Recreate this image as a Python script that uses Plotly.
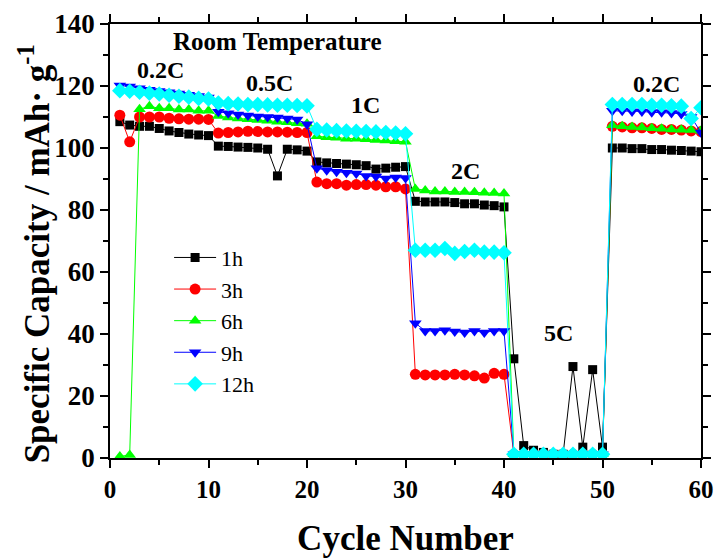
import plotly.graph_objects as go

cycles = list(range(1, 61))

cap_1h = [108.5, 107.4, 107.0, 107.0, 106.3, 105.5, 105.0, 104.5, 104.2, 104.0,
          100.6, 100.5, 100.3, 100.2, 100.0, 99.6, 91.0, 99.6, 99.4, 99.0,
          95.5, 95.2, 95.0, 94.8, 94.6, 94.3, 93.2, 93.5, 93.8, 94.0,
          82.8, 82.6, 82.6, 82.6, 82.4, 82.0, 82.0, 81.6, 81.4, 81.0,
          32.0, 4.0, 2.5, 1.8, 1.2, 1.2, 29.5, 3.5, 28.5, 3.5,
          100.0, 100.0, 99.8, 99.8, 99.5, 99.5, 99.3, 99.2, 99.0, 98.8]

cap_3h = [110.6, 102.0, 110.0, 110.0, 110.0, 109.6, 109.4, 109.3, 109.3, 109.2,
          104.8, 105.0, 105.2, 105.4, 105.3, 105.2, 105.2, 105.1, 105.0, 105.0,
          89.0, 88.5, 88.5, 88.0, 88.2, 88.2, 88.0, 87.5, 87.5, 86.8,
          27.0, 26.8, 26.8, 26.8, 27.0, 26.8, 26.5, 25.8, 27.3, 27.0,
          1.2, 1.2, 1.2, 1.2, 1.2, 1.2, 1.2, 1.2, 1.2, 1.2,
          107.0, 106.8, 106.5, 106.5, 106.3, 106.0, 106.0, 105.8, 105.5, 105.3]

cap_6h = [0.5, 1.0, 112.5, 113.5, 112.8, 112.8, 112.4, 112.4, 112.0, 112.0,
          110.3, 109.8, 109.5, 109.3, 109.0, 108.8, 108.5, 108.3, 108.0, 107.8,
          103.8, 103.5, 103.3, 103.0, 103.0, 102.8, 102.6, 102.4, 102.2, 102.0,
          86.8, 86.3, 86.0, 86.0, 85.8, 85.8, 85.7, 85.6, 85.5, 85.3,
          1.2, 1.2, 1.2, 1.2, 1.2, 1.2, 1.2, 1.2, 1.2, 1.2,
          107.3, 107.0, 106.8, 106.6, 106.4, 106.2, 106.0, 105.9, 105.8, 105.6]

cap_9h = [120.2, 119.8, 119.3, 118.8, 118.4, 118.0, 117.6, 117.2, 116.8, 116.3,
          111.7, 111.2, 110.8, 110.5, 110.2, 110.0, 109.8, 109.5, 109.2, 107.7,
          93.5, 92.8, 92.3, 92.0, 91.8, 91.0, 90.8, 90.2, 90.5, 90.3,
          43.5, 41.0, 41.0, 41.2, 40.8, 40.5, 41.0, 40.5, 41.0, 41.0,
          1.2, 1.2, 1.2, 1.2, 1.2, 1.2, 1.2, 1.2, 1.2, 1.2,
          112.0, 112.0, 111.8, 111.8, 111.5, 111.5, 111.3, 111.0, 110.0, 105.0]

cap_12h = [118.5, 118.3, 118.0, 117.7, 117.4, 117.0, 116.7, 116.4, 116.0, 115.8,
           114.5, 114.3, 114.2, 114.0, 114.0, 113.9, 113.8, 113.8, 113.7, 113.6,
           106.0, 105.8, 105.6, 105.5, 105.4, 105.3, 105.2, 105.0, 104.8, 104.6,
           67.0, 67.0, 67.0, 67.6, 66.0, 66.6, 67.0, 66.4, 66.4, 66.2,
           1.2, 1.2, 1.2, 1.2, 1.2, 1.2, 1.2, 1.2, 1.2, 1.2,
           114.0, 114.0, 114.0, 114.0, 113.8, 113.8, 113.6, 113.5, 109.5, 113.0]

series_names = ["1h", "3h", "6h", "9h", "12h"]
series_colors = ["#000000", "#ff0000", "#00ff00", "#0000ff", "#00ffff"]
series_symbols = ["square", "circle", "triangle-up", "triangle-down", "diamond"]
series_sizes = [9, 11, 11, 11, 12]
series_values = [cap_1h, cap_3h, cap_6h, cap_9h, cap_12h]

rate_labels = ["0.2C", "0.5C", "1C", "2C", "5C", "0.2C"]
rate_x = [5.1, 16.2, 25.9, 36.1, 45.5, 55.5]
rate_y = [125.3, 121.0, 114.0, 92.7, 40.3, 120.8]

FONT = "Liberation Serif, Times New Roman, serif"

fig = go.Figure()
for name, col, sym, sz, vals in zip(series_names, series_colors, series_symbols,
                                     series_sizes, series_values):
    fig.add_trace(go.Scatter(
        x=cycles, y=vals, name=name, mode="lines+markers",
        line=dict(color=col, width=1),
        marker=dict(symbol=sym, size=sz, color=col, line=dict(width=0)),
        cliponaxis=True,
    ))

for t, xx, yy in zip(rate_labels, rate_x, rate_y):
    fig.add_annotation(x=xx, y=yy, text=t, showarrow=False,
                       font=dict(family=FONT, size=24, color="black", weight="bold"))

fig.add_annotation(x=17.0, y=134.4, text="Room Temperature", showarrow=False,
                   font=dict(family=FONT, size=25, color="black", weight="bold"))

# y-axis title placed as a rotated annotation (slightly below plot centre as in reference)
fig.add_annotation(xref="paper", yref="paper", x=-0.128, y=0.47,
                   xanchor="center", yanchor="middle", textangle=-90,
                   text="Specific Capacity / mAh· g<sup>-1</sup>", showarrow=False,
                   font=dict(family=FONT, size=35, color="black", weight="bold"))

axis_common = dict(
    showline=True, linecolor="black", linewidth=1.5, mirror="ticks",
    ticks="outside", ticklen=8, tickwidth=1.5, tickcolor="black",
    showgrid=False, zeroline=False,
)

fig.update_xaxes(
    range=[0, 60], tickmode="linear", tick0=0, dtick=10,
    minor=dict(ticks="outside", ticklen=5, tickwidth=1.5, tickcolor="black", dtick=5),
    tickfont=dict(family=FONT, size=25, color="black", weight="bold"),
    title=dict(text="Cycle Number", standoff=26,
               font=dict(family=FONT, size=35, color="black", weight="bold")),
    **axis_common,
)
fig.update_yaxes(
    range=[0, 140], tickmode="linear", tick0=0, dtick=20,
    minor=dict(ticks="outside", ticklen=5, tickwidth=1.5, tickcolor="black", dtick=10),
    tickfont=dict(family=FONT, size=27, color="black", weight="bold"),
    **axis_common,
)

fig.update_layout(
    width=716, height=558,
    margin=dict(l=110, r=15, t=24, b=100, autoexpand=False),
    plot_bgcolor="white", paper_bgcolor="white",
    showlegend=True,
    legend=dict(x=0.10, y=0.51, xanchor="left", yanchor="top",
                itemwidth=42,
                bgcolor="rgba(0,0,0,0)",
                font=dict(family=FONT, size=22, color="black")),
)

fig.write_html("out.html",
               config={"displayModeBar": False},
               post_script="document.body.style.margin='0';document.body.style.overflow='hidden';")
